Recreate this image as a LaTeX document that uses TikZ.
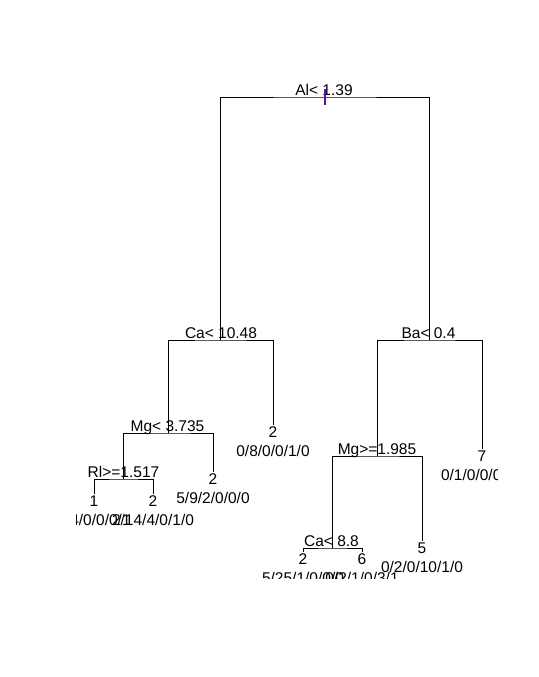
\documentclass[tikz,border=0pt]{standalone}
\usepackage{fontspec}
\setmainfont{Liberation Sans}
\definecolor{tickcol}{RGB}{90,20,170}
\begin{document}
\begin{tikzpicture}[x=1pt,y=-1pt,
  branch/.style={draw=black,line width=1pt},
  splitlab/.style={anchor=base,inner sep=0pt,font=\fontsize{15.5}{18}\selectfont},
  leaflab/.style={anchor=base,inner sep=0pt,font=\fontsize{15.5}{18}\selectfont}]
\useasboundingbox[fill=white] (0,0) rectangle (538,677);
\begin{scope}
\clip (76.5,80) rectangle (497,578);
% split points
\coordinate (root) at (325,97);
\coordinate (ca) at (220.5,340);
\coordinate (ba) at (429.5,340);
\coordinate (mga) at (168.5,433);
\coordinate (lfca) at (273,425);
\coordinate (rl) at (123.5,479);
\coordinate (lfmg) at (213,472);
\coordinate (lfa) at (94,494);
\coordinate (lfb) at (153,494);
\coordinate (mgb) at (377,456);
\coordinate (lfseven) at (482,449);
\coordinate (cb) at (332.5,548);
\coordinate (lffive) at (422,541);
\coordinate (lfc) at (303,552);
\coordinate (lfd) at (362,552);
% branches
\draw[branch] (ca) |- (root) -| (ba);
\draw[branch] (mga) |- (ca) -| (lfca);
\draw[branch] (mgb) |- (ba) -| (lfseven);
\draw[branch] (rl) |- (mga) -| (lfmg);
\draw[branch] (lfa) |- (rl) -| (lfb);
\draw[branch] (cb) |- (mgb) -| (lffive);
\draw[branch] (lfc) |- (cb) -| (lfd);
% split labels
\node[splitlab] (troot) at (324,95.5) {Al< 1.39};
\node[splitlab] (tca) at (221,338) {Ca< 10.48};
\node[splitlab] (tba) at (428.5,338) {Ba< 0.4};
\node[splitlab] (tmga) at (167.5,431) {Mg< 3.735};
\node[splitlab] (trl) at (123.5,477) {Rl>=1.517};
\node[splitlab] (tmgb) at (377,454) {Mg>=1.985};
\node[splitlab] (tcb) at (331.5,546) {Ca< 8.8};
% leaf labels
\node[leaflab] (clfca) at (273,437.5) {2};
\node[leaflab] (nlfca) at (273,456) {0/8/0/0/1/0};
\node[leaflab] (clfmg) at (213,484.5) {2};
\node[leaflab] (nlfmg) at (213,503) {5/9/2/0/0/0};
\node[leaflab] (clfa) at (94,506.5) {1};
\node[leaflab] (nlfa) at (94,525) {5/4/0/0/0/1};
\node[leaflab] (clfb) at (153,506.5) {2};
\node[leaflab] (nlfb) at (153,525) {2/14/4/0/1/0};
\node[leaflab] (clfseven) at (482,461.5) {7};
\node[leaflab] (nlfseven) at (482,480) {0/1/0/0/0/19};
\node[leaflab] (clffive) at (422,553.5) {5};
\node[leaflab] (nlffive) at (422,572) {0/2/0/10/1/0};
\node[leaflab] (clfc) at (303,564.5) {2};
\node[leaflab] (nlfc) at (303,583) {5/25/1/0/0/0};
\node[leaflab] (clfd) at (362,564.5) {6};
\node[leaflab] (nlfd) at (362,583) {0/2/1/0/3/1};
% root tick
\coordinate (ticktop) at (325,89);
\coordinate (tickbot) at (325,105);
\draw[draw=tickcol,line width=1.2pt] (ticktop) -- (tickbot);
\end{scope}
\end{tikzpicture}
\end{document}
